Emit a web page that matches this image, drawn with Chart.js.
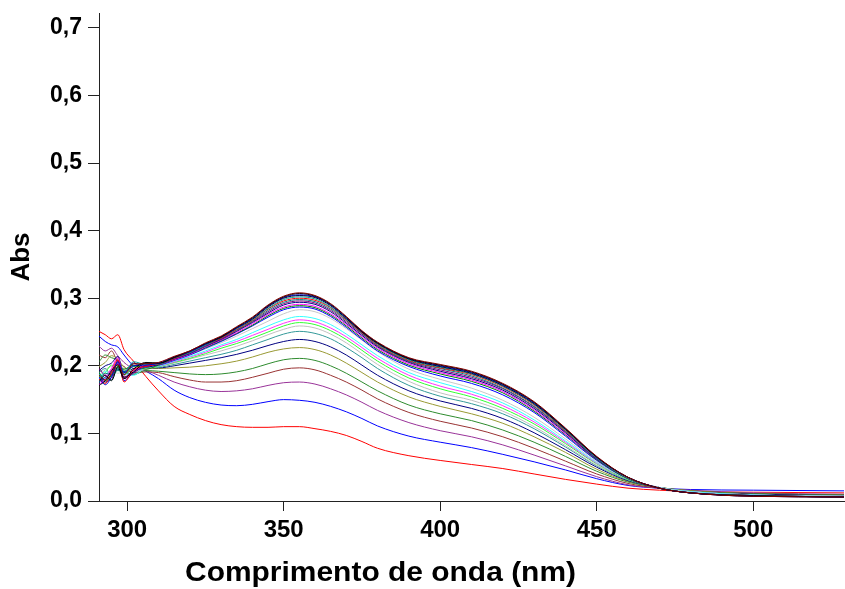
<!DOCTYPE html>
<html>
<head>
<meta charset="utf-8">
<script src="https://cdn.jsdelivr.net/npm/chart.js@4.4.1/dist/chart.umd.min.js"></script>
<style>
html,body{margin:0;padding:0;background:#fff;overflow:hidden;}
#wrap{position:relative;width:845px;height:589px;}
</style>
</head>
<body>
<div id="wrap"><canvas id="c" width="845" height="589"></canvas></div>
<script>
// Wavelengths (nm)
const wavelengths = [291, 293, 295, 297, 299, 302, 306, 310, 315, 320, 325, 330, 335, 340, 345, 350, 355, 360, 365, 370, 375, 380, 390, 400, 410, 420, 430, 440, 450, 460, 470, 480, 500, 529];

// Tick labels
const xTicks = [300, 350, 400, 450, 500];
const yTicks = [0.0, 0.1, 0.2, 0.3, 0.4, 0.5, 0.6, 0.7];

// Absorbance spectra (titration series, first to last)
const s01 = [.251,.246,.240,.246,.224,.207,.184,.163,.140,.128,.119,.113,.110,.109,.109,.110,.110,.107,.103,.097,.088,.078,.067,.060,.054,.048,.040,.032,.025,.019,.016,.014,.013,.012];
const s02 = [.244,.236,.231,.228,.216,.200,.192,.181,.164,.153,.146,.142,.141,.143,.147,.150,.149,.146,.140,.132,.122,.111,.096,.087,.079,.069,.058,.046,.033,.023,.019,.017,.016,.015];
const s03 = [.229,.222,.226,.215,.205,.196,.193,.186,.176,.169,.164,.162,.163,.166,.171,.175,.176,.173,.166,.157,.146,.134,.116,.104,.095,.083,.068,.052,.036,.024,.019,.016,.012,.010];
const s04 = [.216,.212,.222,.205,.199,.190,.191,.190,.184,.179,.176,.176,.178,.183,.189,.195,.197,.194,.186,.176,.164,.151,.131,.118,.108,.095,.078,.059,.040,.026,.019,.015,.011,.009];
const s05 = [.206,.216,.212,.208,.192,.187,.193,.192,.190,.188,.187,.188,.191,.196,.203,.209,.211,.208,.200,.189,.176,.163,.142,.129,.119,.105,.087,.066,.044,.028,.020,.015,.011,.009];
const s06 = [.199,.205,.215,.210,.198,.193,.196,.196,.197,.198,.200,.203,.207,.213,.220,.225,.227,.224,.216,.204,.190,.176,.154,.140,.129,.115,.095,.072,.047,.029,.020,.015,.010,.008];
const s07 = [.193,.200,.204,.214,.187,.196,.197,.197,.200,.204,.208,.212,.217,.223,.230,.236,.239,.236,.228,.216,.201,.186,.163,.148,.137,.122,.101,.076,.050,.030,.020,.014,.010,.008];
const s08 = [.190,.196,.185,.206,.192,.188,.199,.198,.202,.207,.212,.217,.223,.231,.239,.247,.251,.248,.240,.227,.212,.196,.171,.155,.144,.129,.107,.080,.052,.031,.020,.014,.009,.007];
const s09 = [.186,.194,.199,.193,.197,.192,.195,.199,.204,.210,.216,.222,.229,.237,.246,.254,.259,.256,.247,.234,.218,.202,.177,.160,.149,.133,.110,.082,.053,.032,.020,.014,.009,.007];
const s10 = [.184,.190,.201,.196,.186,.199,.197,.199,.205,.211,.218,.226,.233,.241,.250,.259,.264,.261,.252,.239,.223,.207,.182,.166,.154,.137,.114,.085,.055,.032,.020,.014,.009,.007];
const s11 = [.182,.187,.194,.203,.182,.194,.200,.200,.206,.213,.220,.229,.236,.245,.254,.263,.268,.265,.256,.243,.227,.211,.186,.170,.158,.141,.117,.087,.056,.033,.020,.014,.009,.007];
const s12 = [.180,.192,.186,.199,.190,.186,.198,.200,.207,.214,.222,.231,.239,.249,.259,.268,.273,.270,.261,.247,.231,.215,.190,.175,.162,.145,.120,.089,.057,.033,.020,.014,.009,.007];
const s13 = [.178,.184,.195,.189,.193,.198,.196,.201,.208,.216,.225,.234,.244,.255,.266,.277,.283,.280,.270,.255,.238,.221,.195,.180,.167,.149,.124,.092,.058,.033,.020,.013,.008,.007];
const s14 = [.176,.183,.190,.204,.178,.190,.199,.201,.208,.216,.226,.236,.247,.259,.272,.283,.287,.284,.273,.257,.239,.222,.199,.185,.174,.157,.131,.096,.060,.033,.019,.012,.008,.006];
const s15 = [.190,.178,.186,.199,.195,.201,.195,.201,.209,.217,.227,.237,.248,.260,.274,.285,.289,.286,.275,.259,.241,.224,.201,.188,.177,.160,.133,.098,.061,.033,.019,.012,.008,.006];
const s16 = [.172,.181,.196,.212,.184,.193,.200,.202,.209,.217,.228,.238,.249,.262,.276,.287,.291,.288,.277,.261,.243,.226,.203,.190,.179,.162,.135,.099,.062,.034,.019,.012,.008,.006];
const s17 = [.184,.176,.183,.195,.191,.204,.198,.202,.210,.218,.229,.239,.251,.264,.278,.290,.294,.291,.280,.263,.245,.228,.205,.192,.181,.164,.137,.101,.062,.034,.019,.012,.008,.006];
const s18 = [.196,.185,.180,.208,.181,.189,.201,.202,.210,.219,.229,.240,.252,.265,.280,.292,.296,.293,.282,.265,.247,.229,.206,.194,.183,.166,.139,.102,.063,.034,.019,.012,.008,.006];
const s19 = [.175,.189,.187,.193,.192,.199,.203,.203,.211,.219,.230,.241,.253,.266,.282,.294,.298,.295,.284,.267,.248,.230,.207,.196,.185,.167,.140,.103,.063,.034,.019,.012,.008,.006];
const s20 = [.180,.174,.191,.209,.176,.194,.199,.203,.211,.220,.231,.241,.254,.267,.284,.296,.300,.297,.286,.268,.249,.231,.208,.197,.187,.169,.142,.104,.064,.034,.019,.012,.008,.006];
const s21 = [.188,.182,.179,.196,.189,.206,.202,.203,.212,.220,.231,.242,.255,.268,.285,.298,.302,.299,.287,.269,.250,.232,.209,.198,.188,.170,.143,.105,.064,.034,.019,.012,.008,.006];
const s22 = [.171,.178,.193,.201,.183,.191,.204,.204,.212,.221,.232,.242,.256,.269,.287,.300,.304,.301,.289,.270,.250,.233,.210,.199,.189,.171,.144,.106,.065,.035,.019,.012,.008,.006];
const s23 = [.183,.172,.184,.206,.190,.200,.201,.204,.213,.221,.232,.243,.256,.270,.288,.301,.305,.302,.290,.271,.251,.234,.211,.200,.190,.172,.145,.107,.065,.035,.019,.012,.007,.006];
const s24 = [.177,.186,.178,.198,.181,.195,.205,.204,.213,.222,.233,.243,.257,.271,.289,.302,.307,.303,.291,.272,.251,.234,.211,.201,.191,.173,.146,.107,.065,.035,.019,.012,.007,.006];
const s25 = [.186,.179,.188,.202,.187,.203,.203,.205,.214,.222,.234,.244,.258,.272,.290,.303,.308,.304,.292,.273,.252,.235,.212,.202,.192,.174,.147,.108,.066,.035,.019,.012,.007,.006];

const series = [s01,s02,s03,s04,s05,s06,s07,s08,s09,s10,s11,s12,s13,s14,s15,s16,s17,s18,s19,s20,s21,s22,s23,s24,s25];
const colors = ['#ff0000','#0000ff','#993399','#993333','#2e8b2e','#999933','#000080','#339999','#c0c0c0','#33ff33','#ff33ff','#33ffff','#c8c8c8',
                '#0000ff','#008000','#ff00ff','#000080','#800080','#008080','#ff0000','#00a0a0','#000000','#0000cc','#000000','#800000'];

const datasets = series.map((s, i) => ({
  data: wavelengths.map((w, j) => ({x: w, y: s[j]})),
  borderColor: colors[i],
  borderWidth: 1,
  pointRadius: 0,
  fill: false,
  cubicInterpolationMode: 'monotone',
  order: series.length - i
}));

const FONT = '"Liberation Sans", Arial, Helvetica, sans-serif';

const xTitlePlugin = {
  id: 'xTitle',
  afterDraw(chart) {
    const ctx = chart.ctx;
    const text = 'Comprimento de onda (nm)';
    ctx.save();
    ctx.font = 'bold 28px ' + FONT;
    ctx.fillStyle = '#000';
    ctx.textBaseline = 'alphabetic';
    ctx.textAlign = 'left';
    const w = ctx.measureText(text).width;
    const target = 391;
    const sx = target / w;
    ctx.translate(185, 581);
    ctx.scale(sx, 1);
    ctx.fillText(text, 0, 0);
    ctx.restore();
  }
};

function noPad(s) { s.paddingTop = 0; s.paddingBottom = 0; s.paddingLeft = 0; s.paddingRight = 0; }

new Chart(document.getElementById('c'), {
  type: 'line',
  data: { datasets },
  plugins: [xTitlePlugin],
  options: {
    responsive: false,
    animation: false,
    devicePixelRatio: 1,
    layout: { padding: { top: 13, right: 1, left: 0, bottom: 0 } },
    plugins: { legend: { display: false }, tooltip: { enabled: false } },
    scales: {
      x: {
        type: 'linear',
        min: 291, max: 529,
        afterBuildTicks: s => { s.ticks = xTicks.map(v => ({value: v})); },
        afterFit: s => { s.height = 88; noPad(s); },
        border: { display: true, color: '#222', width: 1 },
        grid: { display: true, drawOnChartArea: false, drawTicks: true, tickLength: 10, color: '#222', lineWidth: 1 },
        ticks: { color: '#000', font: { family: FONT, size: 24, weight: 'bold' }, padding: 5, maxRotation: 0, autoSkip: false }
      },
      y: {
        type: 'linear',
        min: 0, max: 0.722,
        afterBuildTicks: s => { s.ticks = yTicks.map(v => ({value: v})); },
        afterFit: s => { s.width = 99; noPad(s); },
        border: { display: true, color: '#222', width: 1 },
        grid: { display: true, drawOnChartArea: false, drawTicks: true, tickLength: 11, color: '#222', lineWidth: 1 },
        ticks: { color: '#000', font: { family: FONT, size: 23, weight: 'bold' }, padding: 6,
                 callback: v => v.toFixed(1).replace('.', ',') },
        title: { display: true, text: 'Abs', color: '#000', font: { family: FONT, size: 26, weight: 'bold' }, padding: { top: 6, bottom: 0 } }
      }
    }
  }
});
</script>
</body>
</html>
